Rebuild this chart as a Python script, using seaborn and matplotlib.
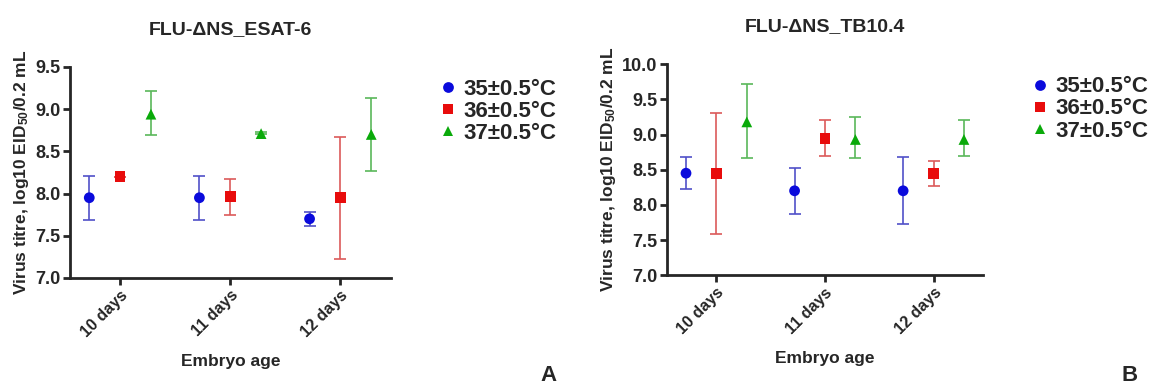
import numpy as np
import pandas as pd
import seaborn as sns
import matplotlib.pyplot as plt

ages = ['10 days', '11 days', '12 days']
temps = ['35±0.5°C', '36±0.5°C', '37±0.5°C']

# panel A: FLU-ΔNS_ESAT-6 (mean, lower, upper per temperature)
a_mean = {'35': [7.95, 7.95, 7.70], '36': [8.20, 7.96, 7.95], '37': [8.94, 8.71, 8.70]}
a_low = {'35': [7.69, 7.69, 7.61], '36': [8.20, 7.74, 7.22], '37': [8.69, 8.70, 8.27]}
a_high = {'35': [8.21, 8.21, 7.78], '36': [8.20, 8.17, 8.67], '37': [9.21, 8.73, 9.13]}

# panel B: FLU-ΔNS_TB10.4
b_mean = {'35': [8.45, 8.20, 8.20], '36': [8.45, 8.94, 8.45], '37': [9.18, 8.93, 8.93]}
b_low = {'35': [8.22, 7.87, 7.73], '36': [7.58, 8.69, 8.27], '37': [8.67, 8.67, 8.69]}
b_high = {'35': [8.68, 8.53, 8.68], '36': [9.31, 9.21, 8.63], '37': [9.72, 9.25, 9.21]}

marker_col = ['#0a0adc', '#e80c0c', '#0aaa0a']
bar_col = ['#5050c8', '#dc5a5a', '#5ab85a']
markers = ['o', 's', '^']
offsets = [-0.28, 0.0, 0.28]

sns.set_style('ticks')
plt.rcParams['font.family'] = ['Liberation Sans', 'DejaVu Sans']
plt.rcParams['font.weight'] = 'bold'
plt.rcParams['mathtext.fontset'] = 'custom'
plt.rcParams['mathtext.rm'] = 'Liberation Sans:bold'
plt.rcParams['mathtext.default'] = 'rm'

fig = plt.figure(figsize=(11.53, 3.87), dpi=100)
axA = fig.add_axes([0.0607, 0.282, 0.278, 0.545])
axB = fig.add_axes([0.5785, 0.289, 0.274, 0.545])


def panel(ax, mean, low, high, title, ylim, yticks, legend_x, letter_x):
    keys = ['35', '36', '37']
    rows = []
    for k, t in zip(keys, temps):
        for i, age in enumerate(ages):
            rows.append({'age': age, 'temp': t, 'mean': mean[k][i],
                         'low': low[k][i], 'high': high[k][i]})
    df = pd.DataFrame(rows)
    df['x'] = df['age'].map({a: i for i, a in enumerate(ages)}) + \
        df['temp'].map(dict(zip(temps, offsets)))
    for t, bc in zip(temps, bar_col):
        d = df[df['temp'] == t]
        ax.errorbar(d['x'], d['mean'],
                    yerr=[d['mean'] - d['low'], d['high'] - d['mean']],
                    fmt='none', ecolor=bc, elinewidth=1.2, capsize=4, capthick=1.2, zorder=2)
    sns.scatterplot(data=df, x='x', y='mean', hue='temp', style='temp',
                    palette=marker_col, markers=markers, s=60, linewidth=0,
                    ax=ax, zorder=3, legend=True)
    ax.set_xlim(-0.455, 2.455)
    ax.set_ylim(*ylim)
    ax.set_yticks(yticks)
    ax.set_yticklabels([f'{v:.1f}' for v in yticks], fontsize=13, fontweight='bold')
    ax.set_xticks(range(len(ages)))
    ax.set_xticklabels(ages, rotation=45, ha='right', rotation_mode='anchor',
                       fontsize=11.5, fontweight='bold')
    ax.set_xlabel('Embryo age', fontsize=12.5, fontweight='bold', labelpad=10)
    ax.set_ylabel(r'Virus titre, log10 EID$_{50}$/0.2 mL', fontsize=12.5,
                  fontweight='bold', labelpad=3)
    ax.set_title(title, fontsize=14, fontweight='bold', pad=24)
    for s in ['top', 'right']:
        ax.spines[s].set_visible(False)
    for s in ['left', 'bottom']:
        ax.spines[s].set_linewidth(2)
    ax.tick_params(width=2, length=5, pad=2)
    leg = ax.legend(loc='upper left', bbox_to_anchor=(legend_x, 0.985), frameon=False,
                    fontsize=16, handletextpad=0.25, labelspacing=0.05,
                    borderaxespad=0, handlelength=0.9, markerscale=1.0)
    for txt in leg.get_texts():
        txt.set_fontweight('bold')
    fig.text(letter_x, 0.015, chr(65 if ax is axA else 66), fontsize=16,
             fontweight='bold', ha='center')


panel(axA, a_mean, a_low, a_high, 'FLU-ΔNS_ESAT-6', (7.0, 9.5),
      [7.0, 7.5, 8.0, 8.5, 9.0, 9.5], 1.12, 0.476)
panel(axB, b_mean, b_low, b_high, 'FLU-ΔNS_TB10.4', (7.0, 10.0),
      [7.0, 7.5, 8.0, 8.5, 9.0, 9.5, 10.0], 1.12, 0.980)

fig.savefig('out.png', dpi=100, facecolor='white')
